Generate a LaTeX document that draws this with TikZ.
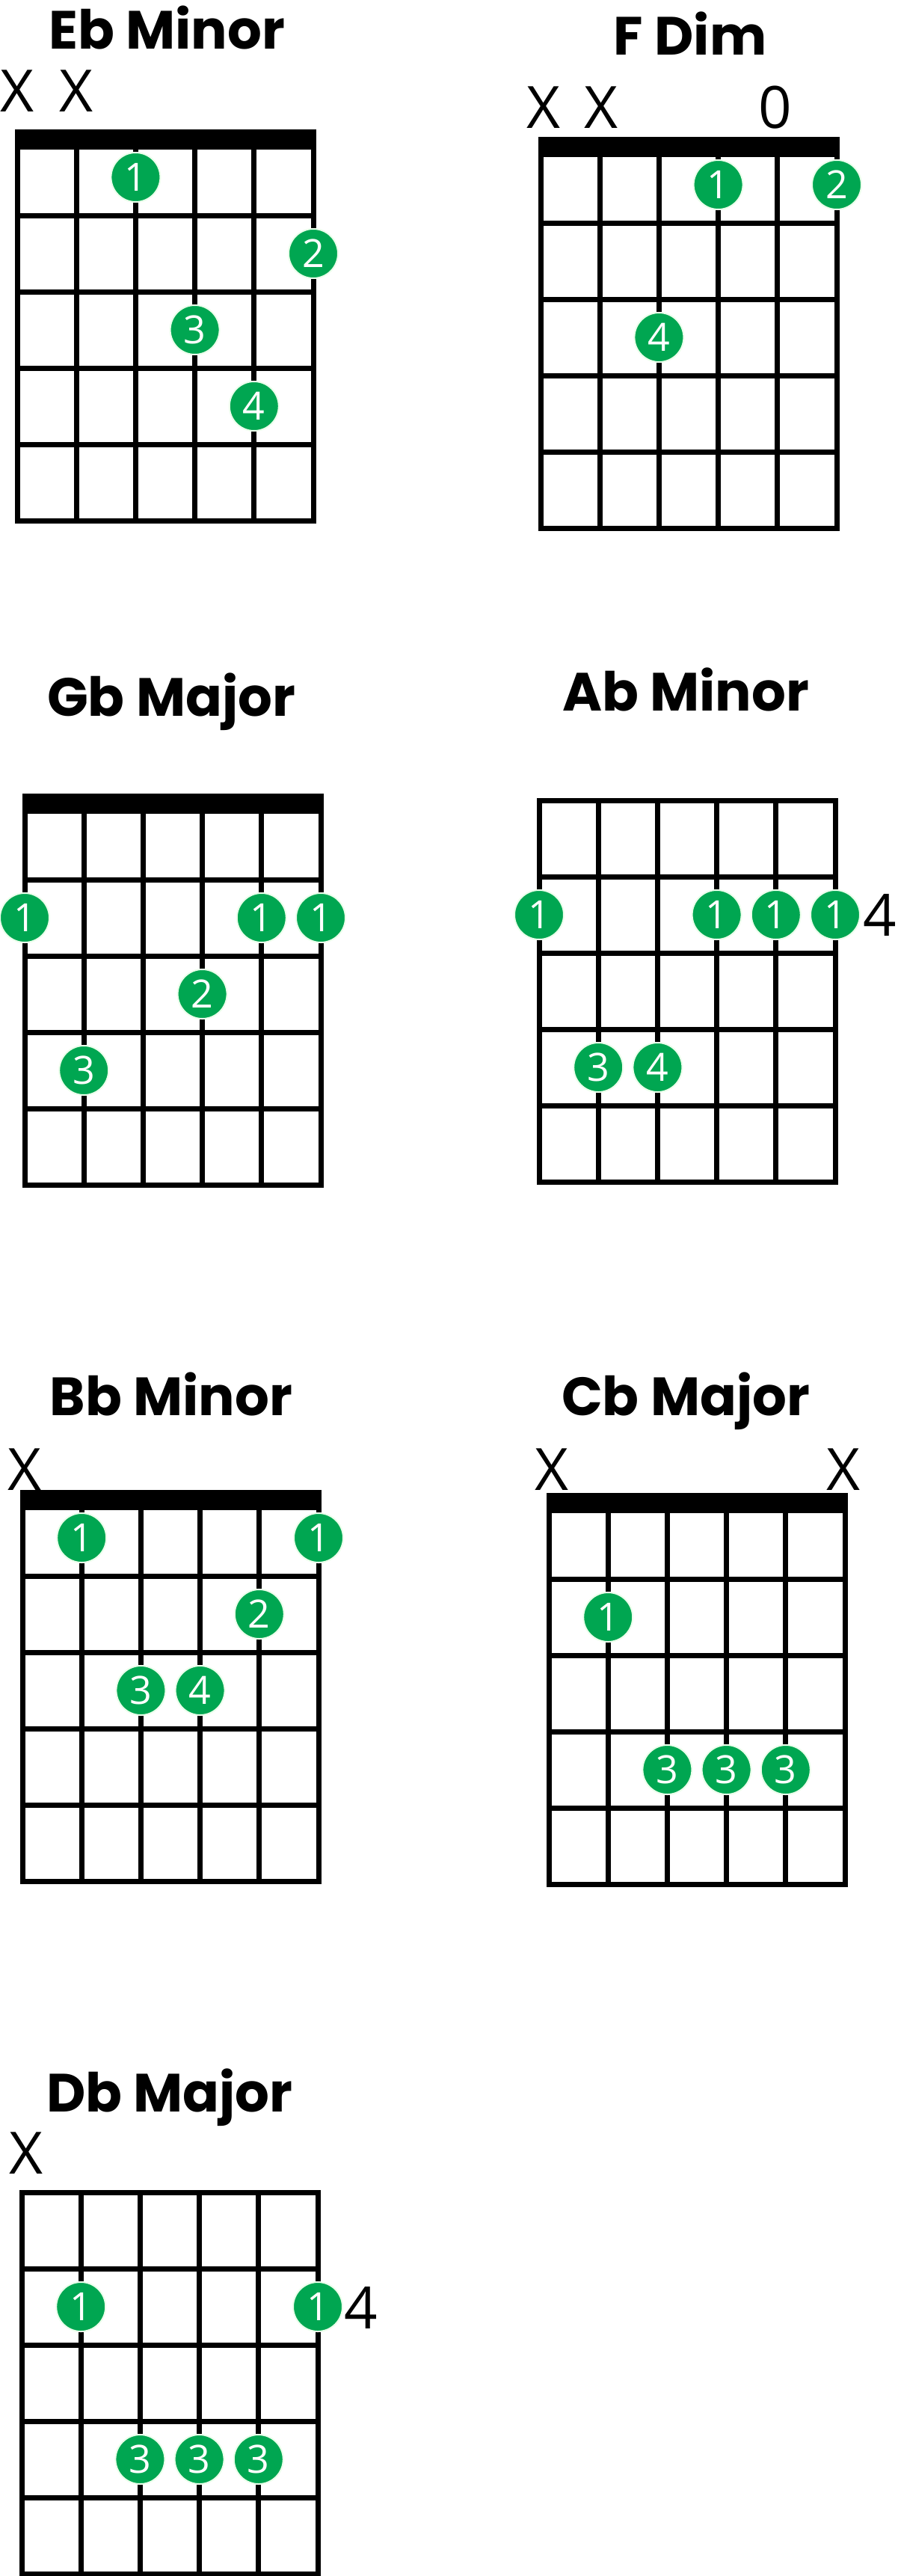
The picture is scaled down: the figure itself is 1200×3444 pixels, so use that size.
\documentclass[tikz,border=0pt]{standalone}
\usepackage{fontspec}
\setmainfont{Open Sans}
\newfontfamily\titlefont{Poppins}[UprightFont=* Bold]
\definecolor{dotgreen}{HTML}{00A651}
\usetikzlibrary{calc}
\tikzset{
  gridline/.style={line width=7pt, black, line cap=rect},
  ttl/.style={font=\titlefont\fontsize{72}{72}\selectfont, anchor=base, inner sep=0},
  strmark/.style={font=\fontsize{78}{78}\selectfont, inner sep=0},
  fdot/.style={circle, fill=dotgreen, draw=green!8, line width=2pt, minimum size=66pt, inner sep=0,
     text=white, font=\fontsize{52}{52}\selectfont},
}
% \chordgrid{name}{left}{top}{nut 0/1}
\newcommand\chordgrid[4]{%
  \foreach \i in {0,...,5}{\draw[gridline] ({#2+\i*79.2},{#3}) -- ({#2+\i*79.2},{#3+510});}
  \foreach \j in {0,...,5}{\draw[gridline] ({#2},{#3+\j*102}) -- ({#2+396},{#3+\j*102});}
  \ifnum#4=1 \fill ({#2-3.5},{#3-13}) rectangle ({#2+399.5},{#3+14});\fi
  \coordinate (#1) at (#2,#3);}
% \fdot{name}{grid}{string}{fret}{label}
\newcommand\fdot[5]{\node[fdot] (#1) at ($(#2)+({#3*79.2},{(#4-0.5)*102})$) {#5};}
\begin{document}
\begin{tikzpicture}[x=1pt,y=-1pt]
\useasboundingbox (0,0) rectangle (1200,3444);
\fill[white] (0,0) rectangle (1200,3444);
% Eb Minor
\node[ttl] (t1) at (223,66) {Eb Minor};
\chordgrid{g1}{23}{186}{1}
\node[strmark] (x11) at (23,122) {X};
\node[strmark] (x12) at (102,122) {X};
\fdot{d11}{g1}{2}{1}{1}
\fdot{d12}{g1}{5}{2}{2}
\fdot{d13}{g1}{3}{3}{3}
\fdot{d14}{g1}{4}{4}{4}
% F Dim
\node[ttl] (t2) at (923,74) {F Dim};
\chordgrid{g2}{723}{196}{1}
\node[strmark] (x21) at (727,144) {X};
\node[strmark] (x22) at (804,144) {X};
\node[strmark] (o21) at (1037,144) {0};
\fdot{d21}{g2}{3}{1}{1}
\fdot{d22}{g2}{5}{1}{2}
\fdot{d23}{g2}{2}{3}{4}
% Gb Major
\node[ttl] (t3) at (229,957) {Gb Major};
\chordgrid{g3}{33}{1074}{1}
\fdot{d31}{g3}{0}{2}{1}
\fdot{d32}{g3}{4}{2}{1}
\fdot{d33}{g3}{5}{2}{1}
\fdot{d34}{g3}{3}{3}{2}
\fdot{d35}{g3}{1}{4}{3}
% Ab Minor
\node[ttl] (t4) at (917,950) {Ab Minor};
\chordgrid{g4}{721}{1070}{0}
\fdot{d41}{g4}{0}{2}{1}
\fdot{d42}{g4}{3}{2}{1}
\fdot{d43}{g4}{4}{2}{1}
\fdot{d44}{g4}{5}{2}{1}
\fdot{d45}{g4}{1}{4}{3}
\fdot{d46}{g4}{2}{4}{4}
\node[strmark] (p4) at (1177,1223) {4};
% Bb Minor
\node[ttl] (t5) at (229,1892) {Bb Minor};
\chordgrid{g5}{30}{2005}{1}
\node[strmark] (x51) at (33,1965) {X};
\fdot{d51}{g5}{1}{1}{1}
\fdot{d52}{g5}{5}{1}{1}
\fdot{d53}{g5}{4}{2}{2}
\fdot{d54}{g5}{2}{3}{3}
\fdot{d55}{g5}{3}{3}{4}
% Cb Major
\node[ttl] (t6) at (917,1892) {Cb Major};
\chordgrid{g6}{734}{2009}{1}
\node[strmark] (x61) at (738,1965) {X};
\node[strmark] (x62) at (1128,1965) {X};
\fdot{d61}{g6}{1}{2}{1}
\fdot{d62}{g6}{2}{4}{3}
\fdot{d63}{g6}{3}{4}{3}
\fdot{d64}{g6}{4}{4}{3}
% Db Major
\node[ttl] (t7) at (227,2823) {Db Major};
\chordgrid{g7}{29}{2931}{0}
\node[strmark] (x71) at (35,2879) {X};
\fdot{d71}{g7}{1}{2}{1}
\fdot{d72}{g7}{5}{2}{1}
\fdot{d73}{g7}{2}{4}{3}
\fdot{d74}{g7}{3}{4}{3}
\fdot{d75}{g7}{4}{4}{3}
\node[strmark] (p7) at (483,3085) {4};
\end{tikzpicture}
\end{document}
